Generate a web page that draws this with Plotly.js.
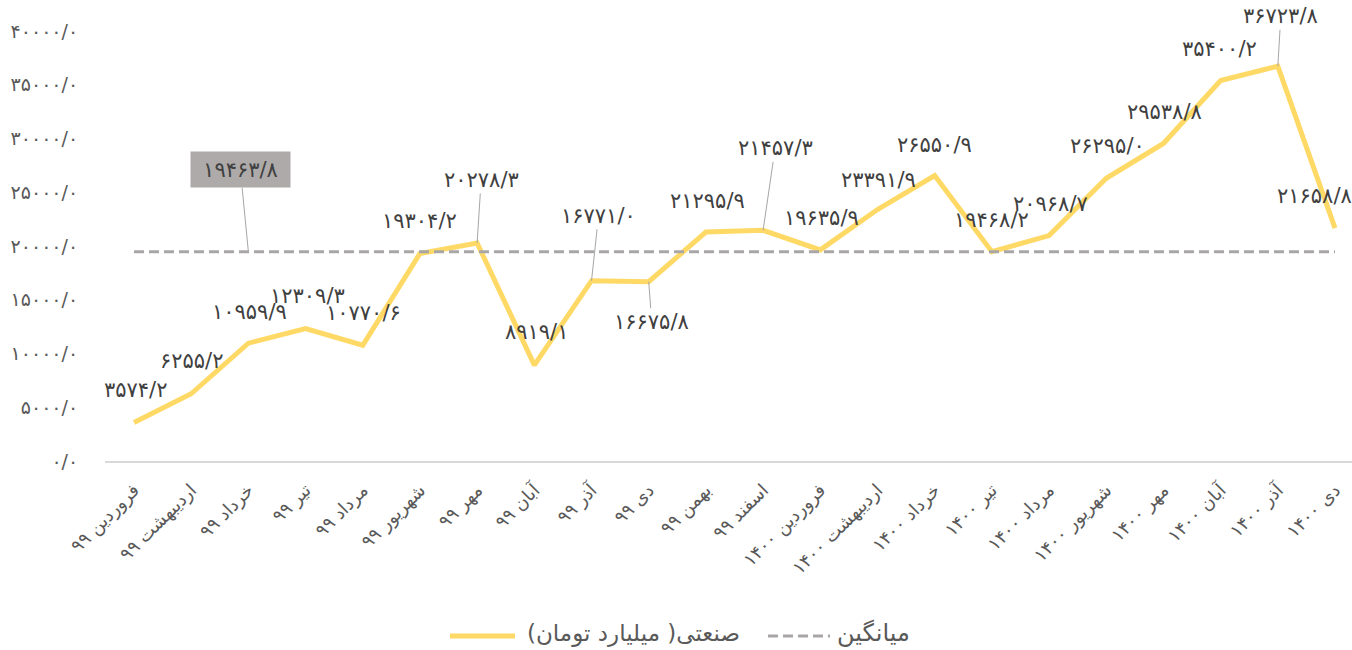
<!DOCTYPE html>
<html>
<head>
<meta charset="utf-8">
<script src="https://cdn.plot.ly/plotly-3.0.1.min.js"></script>
<style>html,body{margin:0;padding:0;background:#fff;}#chart{width:1352px;height:650px;}</style>
</head>
<body>
<div id="chart"></div>
<script>
// ---- data ----
const months = ["فروردین ۹۹","اردیبهشت ۹۹","خرداد ۹۹","تیر ۹۹","مرداد ۹۹","شهریور ۹۹","مهر ۹۹","آبان ۹۹","آذر ۹۹","دی ۹۹","بهمن ۹۹","اسفند ۹۹","فروردین ۱۴۰۰","اردیبهشت ۱۴۰۰","خرداد ۱۴۰۰","تیر ۱۴۰۰","مرداد ۱۴۰۰","شهریور ۱۴۰۰","مهر ۱۴۰۰","آبان ۱۴۰۰","آذر ۱۴۰۰","دی ۱۴۰۰"];
const industrial = [3574.2,6255.2,10959.9,12309.3,10770.6,19304.2,20278.3,8919.1,16771.0,16675.8,21295.9,21457.3,19635.9,23391.9,26550.9,19468.2,20968.7,26295.0,29538.8,35400.2,36723.8,21658.8];
const averageValue = 19463.8;
const yTicks = [0,5000,10000,15000,20000,25000,30000,35000,40000];
const seriesName = "صنعتی( میلیارد تومان)";
const avgName = "میانگین";

// ---- label placement (style only): [dx, dy, leader] in pixels ----
const labelOffsets = [[1,-33,0],[0,-33,0],[1,-31,0],[2,-33,0],[1,-32,0],[0,-32,0],[4,-63,1],[2,-33,0],[7,-65,1],[3,40,1],[2,-31,0],[12,-82,1],[1,-32,0],[1,-30,0],[0,-31,0],[0,-32,0],[1,-32,0],[1,-32,0],[1,-31,0],[-1,-31,0],[3,-50,1],[-21,-32,0]];

function fa(v){
  const d = "۰۱۲۳۴۵۶۷۸۹";
  return v.toFixed(1).replace(/[0-9]/g, c => d[+c]).replace('.', '/');
}

const FONT = "DejaVu Sans, sans-serif";
const YELLOW = '#FFD966', GREY = '#A9A6A6';

const traces = [
  {x: months, y: industrial, type: 'scatter', mode: 'lines', name: seriesName,
   line: {color: YELLOW, width: 5}, hoverinfo: 'skip', showlegend: false},
  {x: months, y: months.map(() => averageValue), type: 'scatter', mode: 'lines', name: avgName,
   line: {color: GREY, width: 3, dash: '10px,5px'}, hoverinfo: 'skip', showlegend: false}
];

const annotations = industrial.map((v, i) => {
  const o = labelOffsets[i];
  return {x: months[i], y: v, xref: 'x', yref: 'y', text: fa(v),
    showarrow: true, arrowhead: 0, arrowwidth: 1, standoff: 0,
    arrowcolor: o[2] ? '#A6A6A6' : 'rgba(0,0,0,0)',
    ax: o[0], ay: o[1], font: {family: FONT, size: 21, color: '#404040'}};
});
annotations.push({x: months[2], y: averageValue, xref: 'x', yref: 'y', text: fa(averageValue),
  showarrow: true, arrowhead: 0, arrowwidth: 1, standoff: 0, arrowcolor: '#A6A6A6',
  ax: -8, ay: -82, bgcolor: '#AEAAAA', borderpad: 4, width: 91, height: 27,
  font: {family: FONT, size: 21, color: '#404040'}});

// custom legend (pixel positions converted to paper coords)
const PL = 105, PW = 1247, PT = 31, PH = 430;
const px = x => (x - PL) / PW, py = y => (PT + PH - y) / PH;
annotations.push({xref: 'paper', yref: 'paper', x: px(525), y: py(633), xanchor: 'left', yanchor: 'middle',
  text: seriesName, showarrow: false, font: {family: FONT, size: 23, color: '#595959'}});
annotations.push({xref: 'paper', yref: 'paper', x: px(835), y: py(633), xanchor: 'left', yanchor: 'middle',
  text: avgName, showarrow: false, font: {family: FONT, size: 24, color: '#595959'}});
const shapes = [
  {type: 'line', xref: 'paper', yref: 'paper', x0: px(450), x1: px(515), y0: py(636), y1: py(636),
   line: {color: YELLOW, width: 5}},
  {type: 'line', xref: 'paper', yref: 'paper', x0: px(768), x1: px(830), y0: py(636), y1: py(636),
   line: {color: GREY, width: 3, dash: '10px,5px'}}
];

const layout = {
  width: 1352, height: 650,
  margin: {l: 105, r: 0, t: 31, b: 189},
  paper_bgcolor: '#fff', plot_bgcolor: '#fff',
  font: {family: FONT, color: '#595959'},
  showlegend: false,
  xaxis: {type: 'category', range: [-0.507, 21.297], showgrid: false, zeroline: false,
    showline: true, linecolor: '#D9D9D9', linewidth: 1.5,
    tickangle: -45, ticks: 'outside', ticklen: 10, tickcolor: 'rgba(0,0,0,0)',
    tickfont: {family: FONT, size: 18, color: '#595959'}},
  yaxis: {range: [0, 40000], showgrid: false, zeroline: false, showline: false,
    tickvals: yTicks, ticktext: yTicks.map(fa), ticks: 'outside', ticklen: 22, tickcolor: 'rgba(0,0,0,0)',
    tickfont: {family: FONT, size: 19, color: '#595959'}},
  annotations: annotations,
  shapes: shapes
};

Plotly.newPlot('chart', traces, layout, {displayModeBar: false, staticPlot: true});
</script>
</body>
</html>
